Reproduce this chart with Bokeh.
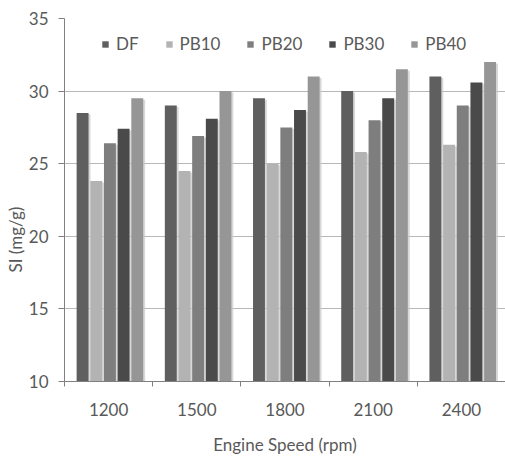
import numpy as np
from bokeh.plotting import figure
from bokeh.models import Range1d, FixedTicker, Legend, LegendItem, Title
from bokeh.embed import file_html
from bokeh.resources import INLINE

speeds = ["1200", "1500", "1800", "2100", "2400"]
series = ["DF", "PB10", "PB20", "PB30", "PB40"]
DF = [28.5, 29.0, 29.5, 30.0, 31.0]
PB10 = [23.8, 24.5, 25.0, 25.8, 26.3]
PB20 = [26.4, 26.9, 27.5, 28.0, 29.0]
PB30 = [27.4, 28.1, 28.7, 29.5, 30.6]
PB40 = [29.5, 30.0, 31.0, 31.5, 32.0]
values = [DF, PB10, PB20, PB30, PB40]
colors = ["#5f5f5f", "#b3b3b3", "#7e7e7e", "#4a4a4a", "#969696"]

FONT = "Lato"
TXT = "#595959"

p = figure(width=505, height=457, output_backend="svg", toolbar_location=None,
           x_range=Range1d(0, 5), y_range=Range1d(10, 35),
           min_border_left=64, min_border_right=0, min_border_top=18, min_border_bottom=74)
p.outline_line_color = None
p.background_fill_color = "white"
p.border_fill_color = "white"

centers = np.arange(len(speeds)) + 0.5
slot = 0.155
bw = 0.135
renderers = []
for i, (name, vals, col) in enumerate(zip(series, values, colors)):
    xs = centers + (i - 2) * slot + 0.015
    p.vbar(x=xs + 0.022, top=np.array(vals) - 0.1, bottom=10, width=bw,
           fill_color="#c8c8c8", fill_alpha=0.7, line_color=None)
    r = p.vbar(x=xs, top=vals, bottom=10, width=bw, fill_color=col, line_color=None)
    renderers.append(r)

p.xaxis.ticker = FixedTicker(ticks=list(centers), minor_ticks=list(np.arange(0, 6)))
p.xaxis.major_label_overrides = {float(c): s for c, s in zip(centers, speeds)}
p.xaxis.major_tick_out = 0
p.xaxis.major_tick_in = 0
p.xaxis.minor_tick_out = 5
p.xaxis.minor_tick_in = 0
p.xaxis.minor_tick_line_color = "#808080"
p.xaxis.axis_line_color = "#808080"
p.xaxis.major_label_text_font = FONT
p.xaxis.major_label_text_font_size = "17px"
p.xaxis.major_label_text_color = TXT
p.xaxis.major_label_standoff = 16
p.xaxis.axis_label = "Engine Speed (rpm)"
p.xaxis.axis_label_text_font = FONT
p.xaxis.axis_label_text_font_style = "normal"
p.xaxis.axis_label_text_font_size = "17px"
p.xaxis.axis_label_text_color = TXT
p.xaxis.axis_label_standoff = 15

p.yaxis.ticker = FixedTicker(ticks=[10, 15, 20, 25, 30, 35])
p.yaxis.minor_tick_line_color = None
p.yaxis.major_tick_out = 6
p.yaxis.major_tick_in = 0
p.yaxis.major_tick_line_color = "#808080"
p.yaxis.axis_line_color = "#808080"
p.yaxis.major_label_text_font = FONT
p.yaxis.major_label_text_font_size = "17px"
p.yaxis.major_label_text_color = TXT
p.yaxis.major_label_standoff = 10

ytitle = Title(text="SI (mg/g)", align="left", offset=109, standoff=0,
               text_font=FONT, text_font_size="17px", text_font_style="normal",
               text_color=TXT)
p.add_layout(ytitle, "left")

p.xgrid.grid_line_color = None
p.ygrid.ticker = FixedTicker(ticks=[15, 20, 25, 30, 35])
p.ygrid.grid_line_color = "#b8b8b8"

legend = Legend(items=[LegendItem(label=s, renderers=[r]) for s, r in zip(series, renderers)],
                orientation="horizontal", location=(37, 327))
legend.border_line_color = None
legend.background_fill_alpha = 0
legend.padding = 0
legend.margin = 0
legend.spacing = 26
legend.glyph_width = 8
legend.glyph_height = 8
legend.label_standoff = 7
legend.label_text_font = FONT
legend.label_text_font_size = "17px"
legend.label_text_color = TXT
p.add_layout(legend, "center")

open("out.html", "w").write(file_html(p, INLINE))
